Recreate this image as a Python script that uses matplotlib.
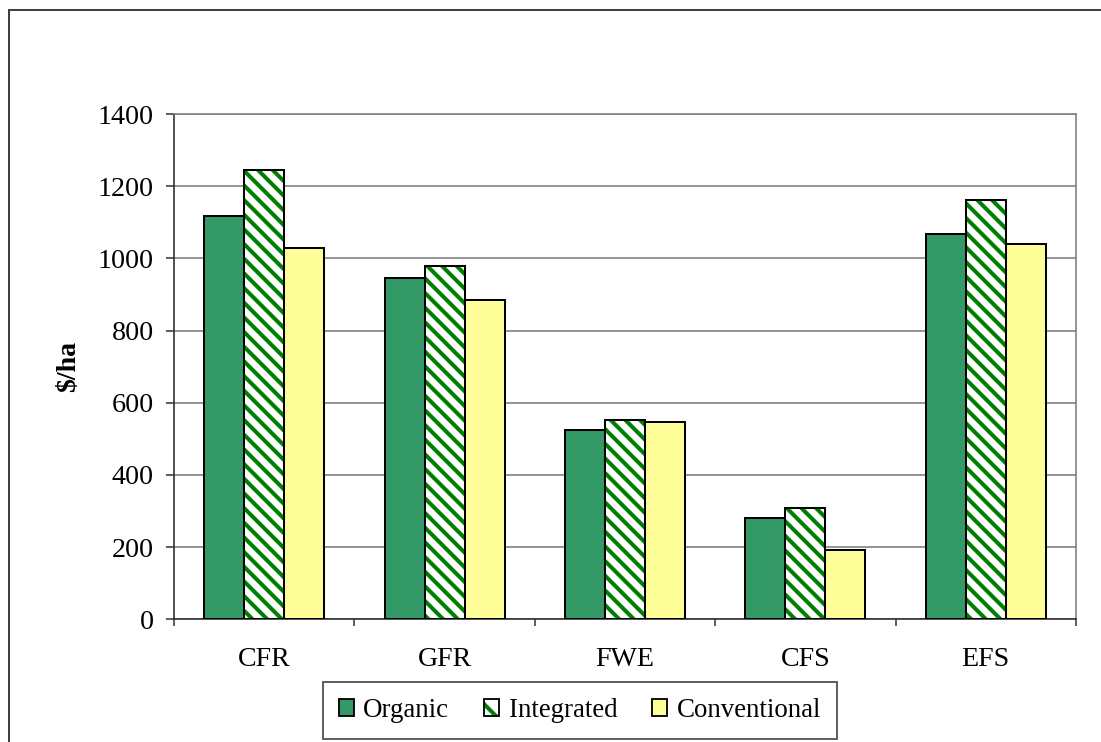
import matplotlib
matplotlib.use("Agg")
import matplotlib.pyplot as plt
import numpy as np
from matplotlib.patches import Patch
from matplotlib.legend_handler import HandlerTuple
from matplotlib.lines import Line2D

categories = ["CFR", "GFR", "FWE", "CFS", "EFS"]
organic = [1118, 945, 524, 281, 1068]
integrated = [1245, 980, 552, 309, 1161]
conventional = [1029, 884, 547, 192, 1040]
series_names = ["Organic", "Integrated", "Conventional"]
yticks = [0, 200, 400, 600, 800, 1000, 1200, 1400]

DPI = 132
W, H = 1101, 742
plt.rcParams['font.family'] = ['Liberation Serif', 'DejaVu Serif']
plt.rcParams['hatch.linewidth'] = 2.2
FS = 15.3

fig = plt.figure(figsize=(W / DPI, H / DPI), dpi=DPI)
ax = fig.add_axes([174 / W, 1 - 619.3 / H, (1076 - 174) / W, (619.3 - 114) / H])

x = np.arange(len(categories))
bw = 0.222
green = "#339966"
yellow = "#FFFF99"
hatch_green = "#008000"
elw = 1.1
HATCH = "\\\\\\"

ax.bar(x - bw, organic, bw, color=green, edgecolor="black", linewidth=elw, zorder=3)
ax.bar(x, integrated, bw, color="white", edgecolor=hatch_green, hatch=HATCH, linewidth=0, zorder=3)
ax.bar(x, integrated, bw, fill=False, edgecolor="black", linewidth=elw, zorder=4)
ax.bar(x + bw, conventional, bw, color=yellow, edgecolor="black", linewidth=elw, zorder=3)

ax.set_xlim(-0.5, len(categories) - 0.5)
ax.set_ylim(0, 1400)
ax.set_yticks(yticks)
ax.set_yticklabels([str(v) for v in yticks], fontsize=FS)
ax.yaxis.grid(True, color="#808080", linewidth=0.9, zorder=0)
ax.set_axisbelow(True)

ax.set_xticks(x)
ax.set_xticklabels(categories, fontsize=FS)
ax.set_xticks(np.arange(-0.5, len(categories)), minor=True)
ax.tick_params(axis="x", which="major", length=0, pad=15)
ax.tick_params(axis="x", which="minor", length=4, width=0.9, color="#404040", direction="out")
ax.tick_params(axis="y", length=4.5, width=0.9, color="#404040", pad=6.5, direction="out")

for s in ["top", "right"]:
    ax.spines[s].set_color("#808080")
    ax.spines[s].set_linewidth(0.9)
ax.spines["left"].set_color("#303030")
ax.spines["left"].set_linewidth(0.9)
ax.spines["bottom"].set_color("#303030")
ax.spines["bottom"].set_linewidth(0.9)

ax.set_ylabel("$/ha", fontsize=FS, fontweight="bold", labelpad=9)

handles = [
    Patch(facecolor=green, edgecolor="black", linewidth=1.0),
    (Patch(facecolor="white", edgecolor=hatch_green, hatch="\\\\", linewidth=0),
     Patch(fill=False, edgecolor="black", linewidth=1.0)),
    Patch(facecolor=yellow, edgecolor="black", linewidth=1.0),
]
leg = fig.legend(handles, series_names, loc="center", ncol=3,
                 bbox_to_anchor=(580 / W, 1 - 710.5 / H),
                 fontsize=14.7, frameon=True, fancybox=False, edgecolor="#404040",
                 framealpha=1, handlelength=0.55, handleheight=0.55,
                 handletextpad=0.35, columnspacing=1.3, borderpad=0.6,
                 handler_map={tuple: HandlerTuple(ndivide=1, pad=0)})
leg.get_frame().set_linewidth(0.9)

# outer frame
fig.add_artist(Line2D([8.5 / W, 8.5 / W], [0, 1 - 10 / H], transform=fig.transFigure,
                      color="#404040", linewidth=1.1))
fig.add_artist(Line2D([8.5 / W, 1], [1 - 10 / H, 1 - 10 / H], transform=fig.transFigure,
                      color="#404040", linewidth=1.1))

fig.savefig("out.png", dpi=DPI)
